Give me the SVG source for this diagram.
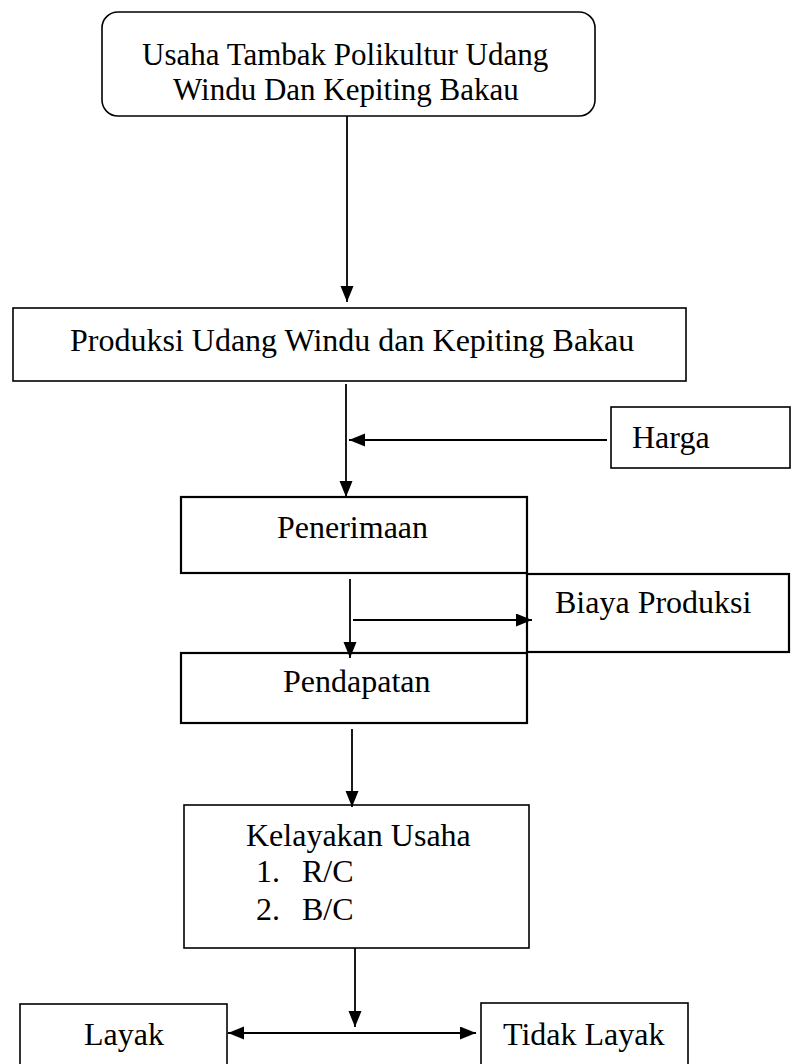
<svg xmlns="http://www.w3.org/2000/svg" width="794" height="1064" viewBox="0 0 794 1064">
<style>
.box{fill:#fff;stroke:#000;stroke-width:1.6}
.thick{stroke-width:2.2}
.t{font-family:"Liberation Serif","Times New Roman",serif;font-size:32px;fill:#000}
.c{stroke:#000;stroke-width:1.8;fill:none}
</style>
<defs>
<marker id="ah" markerUnits="userSpaceOnUse" markerWidth="18" markerHeight="14" refX="16" refY="6.5" orient="auto-start-reverse">
<path d="M0,0 L16,6.5 L0,13 z" fill="#000"/>
</marker>
</defs>
<rect width="794" height="1064" fill="#fff"/>
<g id="n-usaha">
<rect class="box" x="102" y="12" width="493" height="104" rx="16" ry="16"/>
<text class="t" x="142" y="65" style="font-size:31px">Usaha Tambak Polikultur Udang</text>
<text class="t" x="173" y="100" style="font-size:31px">Windu Dan Kepiting Bakau</text>
</g>
<g id="n-produksi">
<rect class="box" x="13" y="308" width="673" height="73"/>
<text class="t" x="70" y="351">Produksi Udang Windu dan Kepiting Bakau</text>
</g>
<g id="n-harga">
<rect class="box" x="611" y="407" width="179" height="61"/>
<text class="t" x="632" y="448">Harga</text>
</g>
<g id="n-penerimaan">
<rect class="box thick" x="181" y="497" width="346" height="76"/>
<text class="t" x="277" y="538">Penerimaan</text>
</g>
<g id="n-biaya">
<rect class="box thick" x="527" y="574" width="262" height="78"/>
<text class="t" x="555" y="613">Biaya Produksi</text>
</g>
<g id="n-pendapatan">
<rect class="box thick" x="181" y="653" width="346" height="70"/>
<text class="t" x="283" y="692">Pendapatan</text>
</g>
<g id="n-kelayakan">
<rect class="box" x="184" y="805" width="345" height="143"/>
<text class="t" x="246" y="846">Kelayakan Usaha</text>
<text class="t" x="256" y="882">1.</text>
<text class="t" x="302" y="882">R/C</text>
<text class="t" x="256" y="920">2.</text>
<text class="t" x="302" y="920">B/C</text>
</g>
<g id="n-layak">
<rect class="box" x="20" y="1004" width="207" height="70"/>
<text class="t" x="84" y="1045">Layak</text>
</g>
<g id="n-tidaklayak">
<rect class="box" x="481" y="1003" width="207" height="71"/>
<text class="t" x="503" y="1045">Tidak Layak</text>
</g>
<g id="connectors">
<line class="c" x1="347" y1="116" x2="347" y2="302" marker-end="url(#ah)"/>
<line class="c" x1="346" y1="384" x2="346" y2="497" marker-end="url(#ah)"/>
<line class="c" x1="607" y1="440" x2="349" y2="440" marker-end="url(#ah)"/>
<line class="c" x1="350" y1="579" x2="350" y2="658" marker-end="url(#ah)"/>
<line class="c" x1="353" y1="620" x2="532" y2="620" marker-end="url(#ah)"/>
<line class="c" x1="352" y1="729" x2="352" y2="807" marker-end="url(#ah)"/>
<line class="c" x1="355" y1="948" x2="355" y2="1027" marker-end="url(#ah)"/>
<line class="c" x1="228" y1="1033" x2="476" y2="1033" marker-start="url(#ah)" marker-end="url(#ah)"/>
</g>
</svg>
